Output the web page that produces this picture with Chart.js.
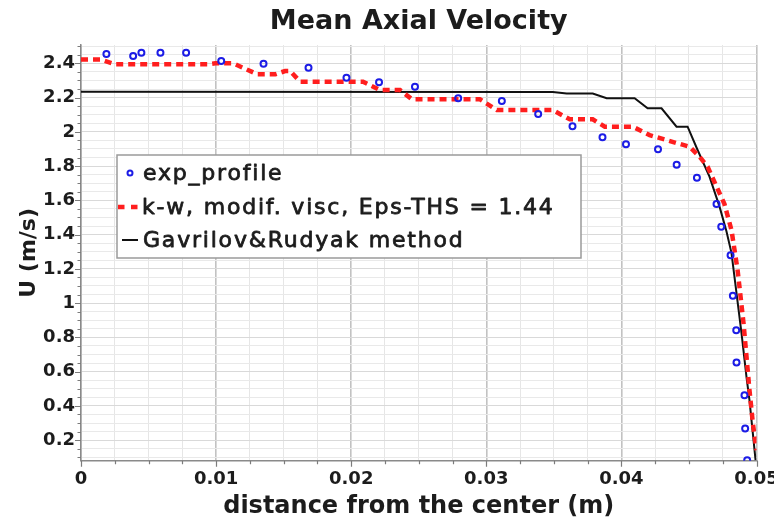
<!DOCTYPE html>
<html><head><meta charset="utf-8">
<script src="https://cdn.jsdelivr.net/npm/chart.js@4/dist/chart.umd.min.js"></script>
<style>html,body{margin:0;padding:0;background:#fff;}canvas{display:block;}</style>
</head><body>
<canvas id="c" width="774" height="523"></canvas>
<script>
// ---- text ----
const chartTitle = 'Mean Axial Velocity';
const xTitle = 'distance from the center (m)';
const yTitle = 'U (m/s)';
const seriesLabels = ['exp_profile', 'k-w, modif. visc, Eps-THS = 1.44', 'Gavrilov&Rudyak method'];

// ---- data ----
const expX = [0.00188,0.00386,0.00447,0.00588,0.00778,0.01038,0.01351,0.01684,0.01965,0.02206,0.02472,0.02792,0.03115,0.03384,0.03638,0.03860,0.04034,0.04271,0.04409,0.04559,0.04704,0.04739,0.04808,0.04825,0.04850,0.04852,0.04911,0.04916,0.04931];
const expU = [2.454,2.443,2.462,2.462,2.462,2.413,2.398,2.374,2.316,2.289,2.263,2.196,2.180,2.104,2.032,1.968,1.927,1.899,1.808,1.732,1.578,1.446,1.280,1.043,0.842,0.654,0.462,0.268,0.083];

const kwX = [0,0.00144,0.00255,0.00935,0.00994,0.01127,0.01305,0.01438,0.01511,0.01548,0.01622,0.02088,0.02213,0.02361,0.02450,0.02953,0.03078,0.03492,0.03618,0.03788,0.03877,0.04084,0.04209,0.04416,0.04505,0.04579,0.04638,0.04705,0.04763,0.04815,0.04860,0.04904,0.04948,0.04973,0.05];
const kwU = [2.423,2.423,2.394,2.394,2.400,2.400,2.336,2.336,2.355,2.355,2.293,2.293,2.244,2.244,2.190,2.190,2.127,2.127,2.073,2.073,2.030,2.030,1.981,1.933,1.913,1.854,1.796,1.679,1.578,1.426,1.193,0.883,0.492,0.299,0.141];

const grX = [0,0.03492,0.03595,0.03788,0.03891,0.04098,0.04194,0.04297,0.04408,0.04490,0.04564,0.04652,0.04727,0.04778,0.04815,0.04852,0.04889,0.04926,0.04948,0.04993];
const grU = [2.234,2.232,2.224,2.224,2.196,2.196,2.137,2.137,2.030,2.030,1.894,1.738,1.562,1.418,1.292,1.058,0.825,0.568,0.434,0.083];

// ---- axes ----
const xMin = 0, xMax = 0.05;
const yMin = 0.08, yMax = 2.507;
const xLabelTicks = ['0','0.01','0.02','0.03','0.04','0.05'];
const yLabelTicks = ['0.2','0.4','0.6','0.8','1','1.2','1.4','1.6','1.8','2','2.2','2.4'];
const xMinorPerMajor = 4, yMinorPerMajor = 4;

const xMajorVals = xLabelTicks.map(Number);
const yMajorVals = yLabelTicks.map(Number);
const xStep = (xMajorVals[1]-xMajorVals[0])/xMinorPerMajor;
const yStep = (yMajorVals[1]-yMajorVals[0])/yMinorPerMajor;
function gridVals(min, max, step){ const out=[]; const s=Math.ceil(min/step-1e-9); for(let i=s;i*step<=max+1e-9;i++) out.push(+(i*step).toFixed(6)); return out; }
const isMajor = (v, majors) => majors.some(m => Math.abs(m-v) < 1e-7);
const labelFor = (v, majors, labels) => { const i = majors.findIndex(m => Math.abs(m-v) < 1e-7); return i>=0 ? labels[i] : ''; };

const FONT = 'DejaVu Sans';
const TXT = '#1c1c1c';

const tickMarks = {
  id:'tickMarks',
  afterDraw(chart){
    const ctx = chart.ctx, xs = chart.scales.x, ys = chart.scales.y;
    ctx.save(); ctx.strokeStyle = '#7c7c7c'; ctx.lineWidth = 1.2;
    ctx.beginPath();
    xs.ticks.forEach(t => { const p = Math.round(xs.getPixelForValue(t.value))+0.5; const len = isMajor(t.value,xMajorVals)?6:3.5; ctx.moveTo(p, xs.top); ctx.lineTo(p, xs.top+len); });
    ys.ticks.forEach(t => { const p = Math.round(ys.getPixelForValue(t.value))+0.5; const len = isMajor(t.value,yMajorVals)?6:3.5; ctx.moveTo(ys.right, p); ctx.lineTo(ys.right-len, p); });
    ctx.stroke(); ctx.restore();
  }
};

const boxLegend = {
  id:'boxLegend',
  afterDatasetsDraw(chart){
    const ctx = chart.ctx, a = chart.chartArea, ds = chart.data.datasets;
    const bx = a.left + 36, by = a.top + 110, bw = 464, bh = 103;
    ctx.save();
    ctx.fillStyle = '#ffffff'; ctx.fillRect(bx, by, bw, bh);
    ctx.strokeStyle = '#9a9a9a'; ctx.lineWidth = 1.5; ctx.strokeRect(bx, by, bw, bh);
    const rows = [by+18, by+52, by+85];
    // symbols
    ctx.beginPath(); ctx.arc(a.left+49, rows[0], 2.5, 0, Math.PI*2);
    ctx.strokeStyle = ds[0].pointBorderColor; ctx.lineWidth = 2; ctx.stroke();
    ctx.beginPath(); ctx.setLineDash([6.5,6.5]); ctx.strokeStyle = ds[1].borderColor; ctx.lineWidth = ds[1].borderWidth;
    ctx.moveTo(a.left+37, rows[1]); ctx.lineTo(a.left+58, rows[1]); ctx.stroke(); ctx.setLineDash([]);
    ctx.beginPath(); ctx.strokeStyle = ds[2].borderColor; ctx.lineWidth = ds[2].borderWidth;
    ctx.moveTo(a.left+41, rows[2]); ctx.lineTo(a.left+57, rows[2]); ctx.stroke();
    // text
    ctx.fillStyle = TXT; ctx.strokeStyle = TXT; ctx.lineWidth = 0.8; ctx.lineJoin = 'round';
    ctx.font = '22px "' + FONT + '"'; ctx.textBaseline = 'middle'; ctx.textAlign = 'left';
    try { ctx.letterSpacing = '1.8px'; } catch(e) {}
    ds.forEach((d,i) => { const tx = a.left + (i===1?61:62), ty = rows[i]+1; ctx.fillText(d.label, tx, ty); ctx.strokeText(d.label, tx, ty); });
    ctx.restore();
  }
};

new Chart(document.getElementById('c'), {
  type: 'scatter',
  data: {
    datasets: [
      { label: seriesLabels[0], data: expX.map((x,i)=>({x, y: expU[i]})), showLine:false,
        pointRadius: 3, pointBorderWidth: 2, pointBorderColor: '#1c1ce6', pointBackgroundColor: 'rgba(255,255,255,0)' },
      { label: seriesLabels[1], data: kwX.map((x,i)=>({x, y: kwU[i]})), showLine:true, pointRadius:0,
        borderColor: '#ff1e1e', borderWidth: 4.5, borderDash: [7,5], tension: 0 },
      { label: seriesLabels[2], data: grX.map((x,i)=>({x, y: grU[i]})), showLine:true, pointRadius:0,
        borderColor: '#111111', borderWidth: 2, tension: 0 }
    ]
  },
  options: {
    responsive: false, animation: false, devicePixelRatio: 1,
    layout: { padding: { left: 0, right: 17.5, top: 0, bottom: 0 } },
    plugins: {
      legend: { display: false }, tooltip: { enabled: false },
      title: { display: true, text: chartTitle, fullSize: false, color: TXT,
        font: { family: FONT, size: 27, weight: 'bold', lineHeight: 1.2 }, padding: { top: 6, bottom: 6.6 } }
    },
    scales: {
      x: { type: 'linear', min: xMin, max: xMax,
        afterBuildTicks: s => { s.ticks = gridVals(xMin, xMax, xStep).map(v => ({ value: v })); },
        afterFit: s => { s.height = 62.3; s.paddingLeft = 0; s.paddingRight = 0; },
        ticks: { autoSkip: false, maxRotation: 0, padding: 2, color: TXT,
          font: { family: FONT, size: 18, weight: 'bold' },
          callback: v => labelFor(v, xMajorVals, xLabelTicks) },
        grid: { drawTicks: true, tickLength: 6, tickColor: 'rgba(0,0,0,0)',
          color: c => (c.tick && isMajor(c.tick.value, xMajorVals)) ? '#c2c2c2' : '#e6e6e6',
          lineWidth: c => (c.tick && isMajor(c.tick.value, xMajorVals)) ? 1.6 : 1 },
        border: { color: '#8a8a8a', width: 1.5 },
        title: { display: true, text: xTitle, color: TXT, font: { family: FONT, size: 24, weight: 'bold', lineHeight: 1.2 }, padding: { top: 0, bottom: 2 } }
      },
      y: { type: 'linear', min: yMin, max: yMax,
        afterBuildTicks: s => { s.ticks = gridVals(yMin, yMax, yStep).map(v => ({ value: v })); },
        afterFit: s => { s.width = 81; s.paddingTop = 0; s.paddingBottom = 0; },
        ticks: { autoSkip: false, padding: 0, color: TXT,
          font: { family: FONT, size: 18, weight: 'bold' },
          callback: v => labelFor(v, yMajorVals, yLabelTicks) },
        grid: { drawTicks: true, tickLength: 6, tickColor: 'rgba(0,0,0,0)',
          color: c => (c.tick && isMajor(c.tick.value, yMajorVals)) ? '#d9d9d9' : '#e9e9e9',
          lineWidth: 1 },
        border: { color: '#8a8a8a', width: 1.5 },
        title: { display: true, text: yTitle, color: TXT, font: { family: FONT, size: 22, weight: 'bold', lineHeight: 1.2 }, padding: { top: 16, bottom: 0 } }
      }
    }
  },
  plugins: [tickMarks, boxLegend]
});
</script>
</body></html>
